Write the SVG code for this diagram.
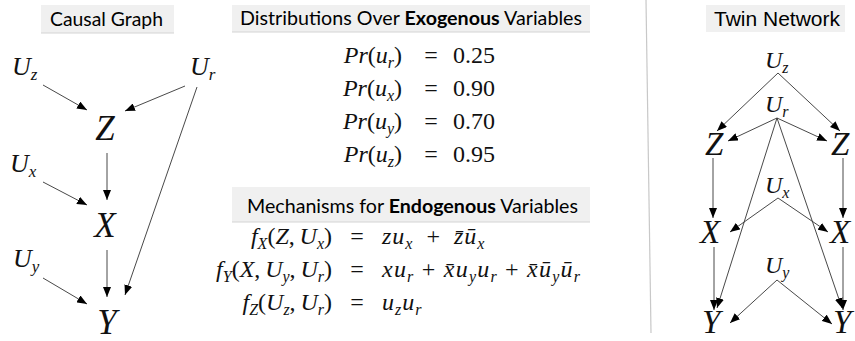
<svg xmlns="http://www.w3.org/2000/svg" width="855" height="341" viewBox="0 0 855 341">
<style>
.m{font-family:"Liberation Serif","Times New Roman",serif;fill:#111;font-size:24px}
.i{font-style:italic}
.s{font-size:16px}
.big{font-size:35px}
.u{font-size:26px}
.su{font-size:17px}
.tz{font-size:33px}
.tu{font-size:24px}
.tsu{font-size:16px}
.ls{letter-spacing:1px}
.t{font-family:Lato,"Open Sans",sans-serif;font-size:19px;fill:#000}
.tb{fill:#f0f0f0}
.tl{stroke:#d4d4d4;stroke-width:1}
.e{stroke:#333;stroke-width:0.9;fill:none;marker-end:url(#ah)}
</style>
<defs>
<marker id="ah" markerUnits="userSpaceOnUse" markerWidth="10" markerHeight="8" refX="10" refY="4" orient="auto">
<path d="M0,0 L10,4 L0,8 Z" fill="#000"/>
</marker>
</defs>

<g id="titles">
<rect class="tb" x="41" y="5" width="133" height="28"/><line class="tl" x1="41" y1="33" x2="174" y2="33"/>
<text class="t" x="50" y="26" textLength="113" lengthAdjust="spacingAndGlyphs">Causal Graph</text>
<rect class="tb" x="232" y="5" width="358" height="27"/><line class="tl" x1="232" y1="32" x2="590" y2="32"/>
<text class="t" x="240" y="25" textLength="342" lengthAdjust="spacingAndGlyphs">Distributions Over <tspan font-weight="bold">Exogenous</tspan> Variables</text>
<rect class="tb" x="232" y="187" width="358" height="35"/><line class="tl" x1="232" y1="222" x2="590" y2="222"/>
<text class="t" x="247" y="213" textLength="331" lengthAdjust="spacingAndGlyphs">Mechanisms for <tspan font-weight="bold">Endogenous</tspan> Variables</text>
<rect class="tb" x="706" y="5" width="139" height="27"/>
<text x="714" y="26" font-family="'Liberation Sans',Arial,sans-serif" font-size="20" textLength="126" lengthAdjust="spacingAndGlyphs">Twin Network</text>
</g>

<line id="divider" x1="646" y1="0" x2="651" y2="333" stroke="#c8c8c8" stroke-width="1.2"/>

<g id="connectors">
<line class="e" x1="43" y1="85" x2="87" y2="110"/>
<line class="e" x1="185" y1="86" x2="125" y2="111"/>
<line class="e" x1="107" y1="153" x2="107" y2="200"/>
<line class="e" x1="43" y1="182" x2="87" y2="205"/>
<line class="e" x1="107" y1="250" x2="107" y2="297"/>
<line class="e" x1="43" y1="278" x2="87" y2="304"/>
<line class="e" x1="197" y1="87" x2="125" y2="295"/>

<line class="e" x1="778" y1="73" x2="717" y2="131"/>
<line class="e" x1="778" y1="73" x2="840" y2="131"/>
<line class="e" x1="777" y1="118" x2="728" y2="141"/>
<line class="e" x1="777" y1="118" x2="827" y2="141"/>
<line class="e" x1="777" y1="118" x2="717" y2="308"/>
<line class="e" x1="777" y1="118" x2="842" y2="308"/>
<line class="e" x1="713" y1="158" x2="713" y2="218"/>
<line class="e" x1="843" y1="158" x2="843" y2="218"/>
<line class="e" x1="778" y1="198" x2="730" y2="232"/>
<line class="e" x1="778" y1="198" x2="828" y2="232"/>
<line class="e" x1="714" y1="247" x2="714" y2="310"/>
<line class="e" x1="843" y1="247" x2="843" y2="310"/>
<line class="e" x1="777" y1="280" x2="730" y2="323"/>
<line class="e" x1="777" y1="280" x2="832" y2="324"/>
</g>

<g id="causal-Uz"><text class="m i u" x="12" y="75">U<tspan class="su" dy="5">z</tspan></text></g>
<g id="causal-Ur"><text class="m i u" x="190" y="75">U<tspan class="su" dy="5">r</tspan></text></g>
<g id="causal-Z"><text class="m i big" x="105" y="140" text-anchor="middle">Z</text></g>
<g id="causal-Ux"><text class="m i u" x="10" y="172">U<tspan class="su" dy="5">x</tspan></text></g>
<g id="causal-X"><text class="m i big" x="105" y="237" text-anchor="middle">X</text></g>
<g id="causal-Uy"><text class="m i u" x="13" y="267">U<tspan class="su" dy="5">y</tspan></text></g>
<g id="causal-Y"><text class="m i big" x="107" y="334" text-anchor="middle">Y</text></g>

<g id="twin-Uz"><text class="m i tu" x="765" y="68">U<tspan class="tsu" dy="5">z</tspan></text></g>
<g id="twin-Ur"><text class="m i tu" x="765" y="112">U<tspan class="tsu" dy="5">r</tspan></text></g>
<g id="twin-Ux"><text class="m i tu" x="765" y="193">U<tspan class="tsu" dy="5">x</tspan></text></g>
<g id="twin-Uy"><text class="m i tu" x="765" y="273">U<tspan class="tsu" dy="5">y</tspan></text></g>
<g id="twin-Z1"><text class="m i tz" x="705" y="155">Z</text></g>
<g id="twin-Z2"><text class="m i tz" x="831" y="155">Z</text></g>
<g id="twin-X1"><text class="m i tz" x="700" y="243">X</text></g>
<g id="twin-X2"><text class="m i tz" x="830" y="243">X</text></g>
<g id="twin-Y1"><text class="m i tz" x="702" y="333">Y</text></g>
<g id="twin-Y2"><text class="m i tz" x="833" y="333">Y</text></g>

<g id="distributions">
<text class="m" x="402" y="63" text-anchor="end"><tspan class="i">Pr</tspan>(<tspan class="i">u</tspan><tspan class="s i" dy="5">r</tspan><tspan dy="-5">)</tspan></text>
<text class="m" x="431" y="63" text-anchor="middle">=</text>
<text class="m" x="453" y="63">0.25</text>
<text class="m" x="402" y="96" text-anchor="end"><tspan class="i">Pr</tspan>(<tspan class="i">u</tspan><tspan class="s i" dy="5">x</tspan><tspan dy="-5">)</tspan></text>
<text class="m" x="431" y="96" text-anchor="middle">=</text>
<text class="m" x="453" y="96">0.90</text>
<text class="m" x="402" y="129" text-anchor="end"><tspan class="i">Pr</tspan>(<tspan class="i">u</tspan><tspan class="s i" dy="5">y</tspan><tspan dy="-5">)</tspan></text>
<text class="m" x="431" y="129" text-anchor="middle">=</text>
<text class="m" x="453" y="129">0.70</text>
<text class="m" x="402" y="162" text-anchor="end"><tspan class="i">Pr</tspan>(<tspan class="i">u</tspan><tspan class="s i" dy="5">z</tspan><tspan dy="-5">)</tspan></text>
<text class="m" x="431" y="162" text-anchor="middle">=</text>
<text class="m" x="453" y="162">0.95</text>
</g>

<g id="mechanisms">
<text class="m" x="332" y="244" text-anchor="end"><tspan class="i">f</tspan><tspan class="s i" dy="5">X</tspan><tspan dy="-5">(</tspan><tspan class="i">Z</tspan>,&#x2009;<tspan class="i">U</tspan><tspan class="s i" dy="5">x</tspan><tspan dy="-5">)</tspan></text>
<text class="m" x="357" y="244" text-anchor="middle">=</text>
<text class="m ls" x="382" y="244"><tspan class="i">zu</tspan><tspan class="s i" dy="5">x</tspan><tspan dy="-5">&#x2002;+&#x2002;</tspan><tspan class="i">z&#x304;u&#x304;</tspan><tspan class="s i" dy="5">x</tspan></text>

<text class="m" x="332" y="277" text-anchor="end"><tspan class="i">f</tspan><tspan class="s i" dy="5">Y</tspan><tspan dy="-5">(</tspan><tspan class="i">X</tspan>,&#x2009;<tspan class="i">U</tspan><tspan class="s i" dy="5">y</tspan><tspan dy="-5">,&#x2009;</tspan><tspan class="i">U</tspan><tspan class="s i" dy="5">r</tspan><tspan dy="-5">)</tspan></text>
<text class="m" x="357" y="277" text-anchor="middle">=</text>
<text class="m" x="382" y="277" textLength="198"><tspan class="i">xu</tspan><tspan class="s i" dy="5">r</tspan><tspan dy="-5"> + </tspan><tspan class="i">x&#x304;u</tspan><tspan class="s i" dy="5">y</tspan><tspan class="i" dy="-5">u</tspan><tspan class="s i" dy="5">r</tspan><tspan dy="-5"> + </tspan><tspan class="i">x&#x304;u&#x304;</tspan><tspan class="s i" dy="5">y</tspan><tspan class="i" dy="-5">u&#x304;</tspan><tspan class="s i" dy="5">r</tspan></text>

<text class="m" x="332" y="310" text-anchor="end"><tspan class="i">f</tspan><tspan class="s i" dy="5">Z</tspan><tspan dy="-5">(</tspan><tspan class="i">U</tspan><tspan class="s i" dy="5">z</tspan><tspan dy="-5">,&#x2009;</tspan><tspan class="i">U</tspan><tspan class="s i" dy="5">r</tspan><tspan dy="-5">)</tspan></text>
<text class="m" x="357" y="310" text-anchor="middle">=</text>
<text class="m ls" x="382" y="310"><tspan class="i">u</tspan><tspan class="s i" dy="5">z</tspan><tspan class="i" dy="-5">u</tspan><tspan class="s i" dy="5">r</tspan></text>
</g>
</svg>
